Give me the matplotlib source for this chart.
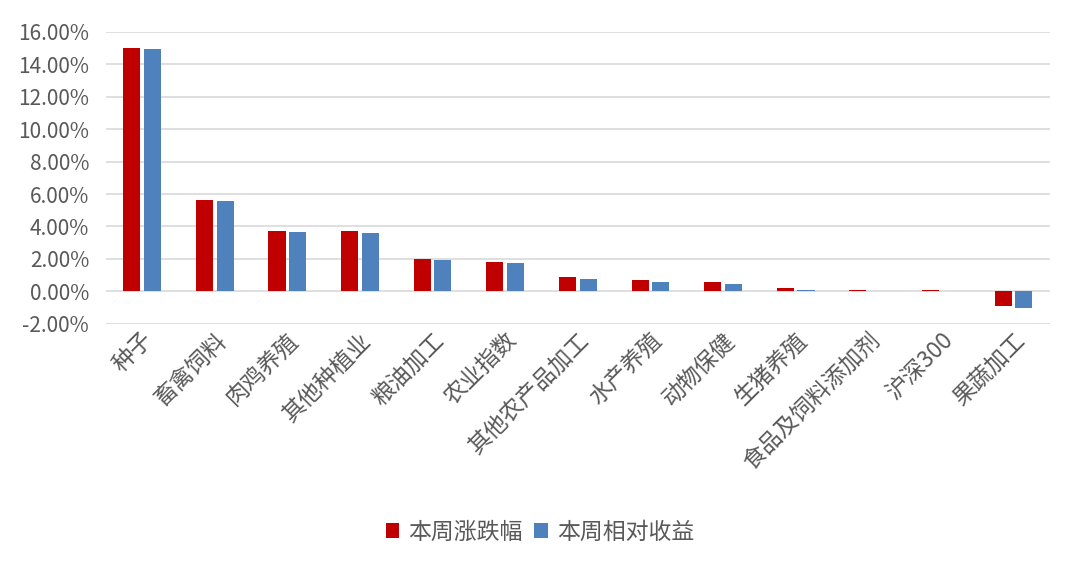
import numpy as np
import matplotlib.pyplot as plt
from matplotlib.ticker import FuncFormatter

plt.rcParams['font.family'] = ['Noto Sans CJK SC', 'DejaVu Sans']

# 数据
categories = ['种子', '畜禽饲料', '肉鸡养殖', '其他种植业', '粮油加工', '农业指数',
              '其他农产品加工', '水产养殖', '动物保健', '生猪养殖', '食品及饲料添加剂',
              '沪深300', '果蔬加工']
weekly_change = [15.02, 5.62, 3.70, 3.70, 1.97, 1.78, 0.86, 0.68, 0.55, 0.18, 0.08, 0.07, -0.92]
relative_return = [14.92, 5.55, 3.63, 3.58, 1.91, 1.72, 0.76, 0.56, 0.44, 0.08, -0.01, 0.0, -1.05]

red = '#C00000'
blue = '#4F81BD'
gray = '#595959'

fig = plt.figure(figsize=(10.8, 5.7), dpi=100)
ax = fig.add_axes([0.098, 0.432, 0.874, 0.512])

x = np.arange(len(categories))
w = 0.235
ax.bar(x - w / 2 - 0.025, weekly_change, w, color=red, label='本周涨跌幅', zorder=3)
ax.bar(x + w / 2 + 0.025, relative_return, w, color=blue, label='本周相对收益', zorder=3)

ax.set_xlim(-0.5, len(categories) - 0.5)
ax.set_ylim(-2, 16)
ax.set_yticks(np.arange(-2, 17, 2))
ax.yaxis.set_major_formatter(FuncFormatter(lambda v, p: f'{v:.2f}%'))
ax.grid(axis='y', color='#D9D9D9', linewidth=1.2, zorder=0)
for s in ax.spines.values():
    s.set_visible(False)
ax.tick_params(axis='both', length=0, colors=gray)
ax.tick_params(axis='y', pad=12, labelsize=15)

ax.set_xticks(x)
ax.set_xticklabels(categories, rotation=45, ha='right', rotation_mode='anchor',
                   fontsize=16.5, fontweight='light')
for lab in ax.get_xticklabels():
    lab.set_color(gray)

fig.legend(loc='lower center', bbox_to_anchor=(0.5, 0.01), ncol=2, frameon=False,
           prop={'size': 16.5, 'weight': 'light'}, handlelength=0.6, handleheight=0.6,
           handletextpad=0.4, columnspacing=0.5, labelcolor=gray)

fig.savefig('out.png', dpi=100)
